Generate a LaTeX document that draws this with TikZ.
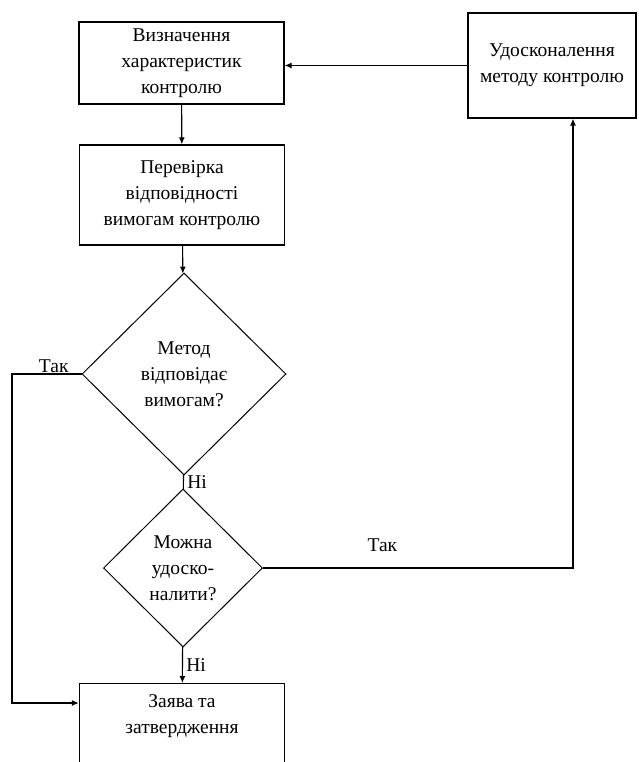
\documentclass[tikz,border=0pt]{standalone}
\usepackage{fontspec}
\setmainfont{Liberation Serif}
\usetikzlibrary{shapes.geometric, arrows.meta}

\begin{document}
\begin{tikzpicture}[
        x=1pt, y=-1pt,
        every node/.style={align=center, font=\fontsize{19.5}{26}\selectfont},
        stepbox/.style={draw, line width=1.4pt, inner sep=0pt, minimum width=205pt},
        decision/.style={draw, diamond, aspect=1, line width=1pt, inner sep=0pt},
        flow/.style={draw, line width=1.1pt, -{Latex[length=7pt, width=6pt]}}
    ]
    \useasboundingbox (0,0) rectangle (638,762);
    \clip (0,0) rectangle (638,762);

    \node[stepbox, minimum height=82pt] (define) at (181.5,63) {Визначення\\характеристик\\контролю};
    \node[stepbox, minimum height=100pt] (check) at (182,195) {Перевірка\\відповідності\\вимогам контролю};
    \node[stepbox, minimum width=168pt, minimum height=105pt] (improve) at (552,65.5) {Удосконалення\\методу контролю};
    \node[decision, minimum width=204pt, minimum height=202pt] (meets) at (184,374) {Метод\\відповідає\\вимогам?};
    \node[decision, minimum width=159pt, minimum height=158pt] (canimprove) at (183,568) {Можна\\удоско-\\налити?};
    \node[stepbox, anchor=north, inner ysep=11pt, text depth=70pt] (approve) at (182,683) {Заява та\\затвердження};

    \coordinate (leftbend) at (12,374);
    \coordinate (rightbend) at (573,568);

    \draw[flow] (define) -- (check);
    \draw[flow] (check) -- (meets);
    \draw[line width=1.1pt] (meets) -- node[right] {Ні} (canimprove);
    \draw[flow] (canimprove) -- node[right] {Ні} (approve);
    \draw[flow] (meets.west) -- node[above, pos=0.4, inner sep=1pt] {Так} (leftbend)
        |- ([yshift=-20pt]approve.north west);
    \draw[flow] (canimprove.east) -- node[above=12pt, pos=0.385] {Так} (rightbend)
        -- (rightbend |- improve.south);
    \draw[flow] (improve.west) -- (improve.west -| define.east);
\end{tikzpicture}
\end{document}
